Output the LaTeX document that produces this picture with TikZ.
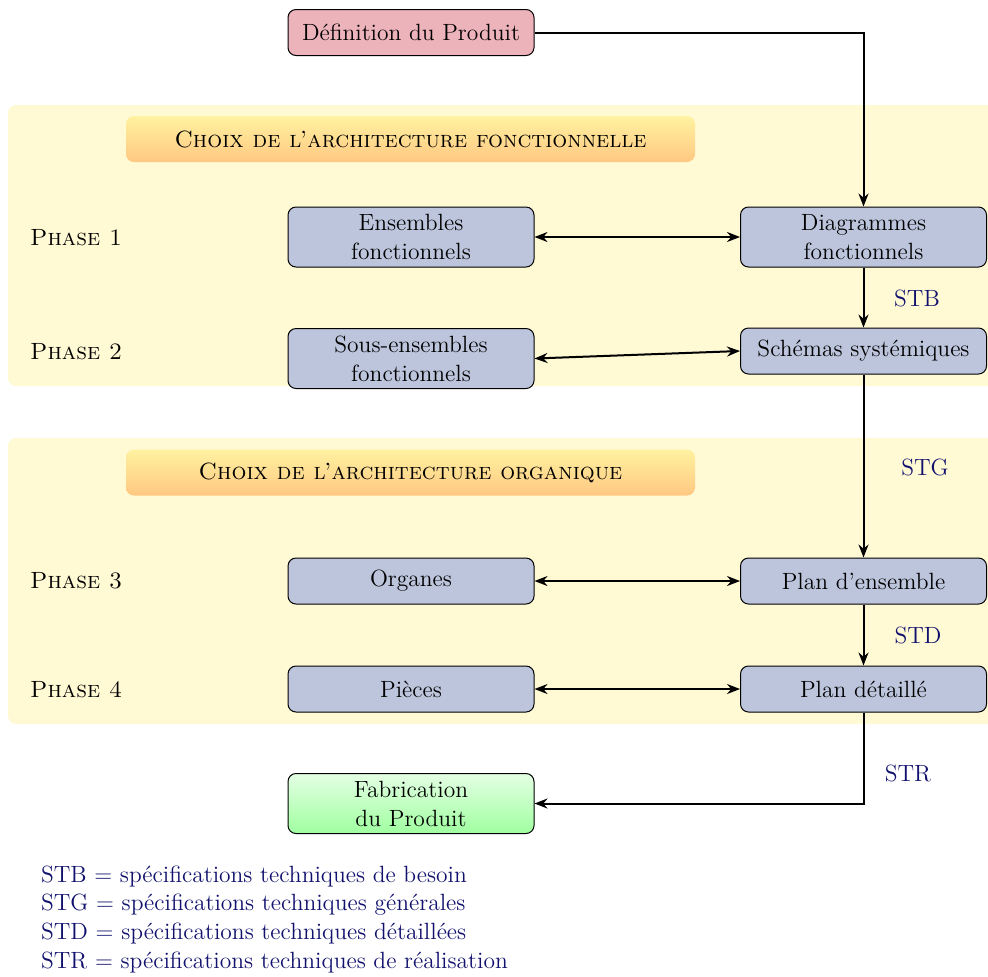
\documentclass[tikz,border=0pt]{standalone}
\usetikzlibrary{arrows.meta}
\definecolor{boxblue}{RGB}{188,197,220}
\definecolor{boxpink}{RGB}{237,179,187}
\definecolor{panel}{RGB}{255,249,212}
\definecolor{bannertop}{RGB}{255,242,160}
\definecolor{bannerbot}{RGB}{255,200,130}
\definecolor{greentop}{RGB}{228,255,228}
\definecolor{greenbot}{RGB}{160,255,160}
\definecolor{stblue}{RGB}{18,18,110}
\begin{document}
\begin{tikzpicture}[x=0.5pt,y=-0.5pt,
  font=\fontsize{11.75}{14.5}\selectfont,
  box/.style={draw=black, line width=0.5pt, rounded corners=4pt, fill=boxblue,
    minimum width=123pt, minimum height=23pt, align=center, inner sep=2pt},
  twobox/.style={box, minimum height=30pt, text width=115pt},
  banner/.style={rounded corners=4pt, top color=bannertop, bottom color=bannerbot,
    minimum width=284.5pt, minimum height=23pt, inner sep=2pt,
    font=\fontsize{11.75}{14.5}\selectfont\scshape},
  arr/.style={-{Stealth[length=6.5pt,width=5pt]}, line width=1pt},
  darr/.style={{Stealth[length=6.5pt,width=5pt]}-{Stealth[length=6.5pt,width=5pt]}, line width=1pt},
  lab/.style={text=stblue},
  phase/.style={anchor=west, font=\fontsize{11.75}{14.5}\selectfont\scshape}]
\clip (0,0) rectangle (988,976);
% panels
\fill[panel, rounded corners=4pt] (8,105) rectangle (1010,386);
\fill[panel, rounded corners=4pt] (8,438) rectangle (1010,724);
% banners
\node[banner] (b1) at (410.5,139) {Choix de l'architecture fonctionnelle};
\node[banner] (b2) at (410.5,472.5) {Choix de l'architecture organique};
% phases
\node[phase] (p1) at (23,238) {Phase 1};
\node[phase] (p2) at (23,352) {Phase 2};
\node[phase] (p3) at (23,581) {Phase 3};
\node[phase] (p4) at (23,690) {Phase 4};
% boxes
\node[box, fill=boxpink] (def) at (411,32.5) {Définition du Produit};
\node[twobox] (ens) at (411,237) {Ensembles\\fonctionnels};
\node[twobox] (diag) at (863.5,237) {Diagrammes\\fonctionnels};
\node[twobox] (sous) at (411,358.5) {Sous-ensembles\\fonctionnels};
\node[box] (schem) at (863.5,351) {Schémas systémiques};
\node[box] (org) at (411,581) {Organes};
\node[box] (plane) at (863.5,581) {Plan d'ensemble};
\node[box] (pie) at (411,689) {Pièces};
\node[box] (pland) at (863.5,689) {Plan détaillé};
\node[twobox, top color=greentop, bottom color=greenbot] (fab) at (411,803.5) {Fabrication\\du Produit};
% labels
\node[lab] (stb) at (917,298) {STB};
\node[lab] (stg) at (925,467) {STG};
\node[lab] (std) at (918,635) {STD};
\node[lab] (str) at (908,773) {STR};
% connectors
\draw[arr] (def.east) -| (diag.north);
\draw[darr] (ens.east) -- (diag.west);
\draw[arr] (diag.south) -- (schem.north);
\draw[darr] (sous.east) -- (schem.west);
\draw[arr] (schem.south) -- (plane.north);
\draw[darr] (org.east) -- (plane.west);
\draw[arr] (plane.south) -- (pland.north);
\draw[darr] (pie.east) -- (pland.west);
\draw[arr] (pland.south) |- (fab.east);
% legend
\node[lab, anchor=west] (l1) at (34,876) {STB = spécifications techniques de besoin};
\node[lab, anchor=west] (l2) at (34,905) {STG = spécifications techniques générales};
\node[lab, anchor=west] (l3) at (34,933) {STD = spécifications techniques détaillées};
\node[lab, anchor=west] (l4) at (34,962) {STR = spécifications techniques de réalisation};
\end{tikzpicture}
\end{document}
